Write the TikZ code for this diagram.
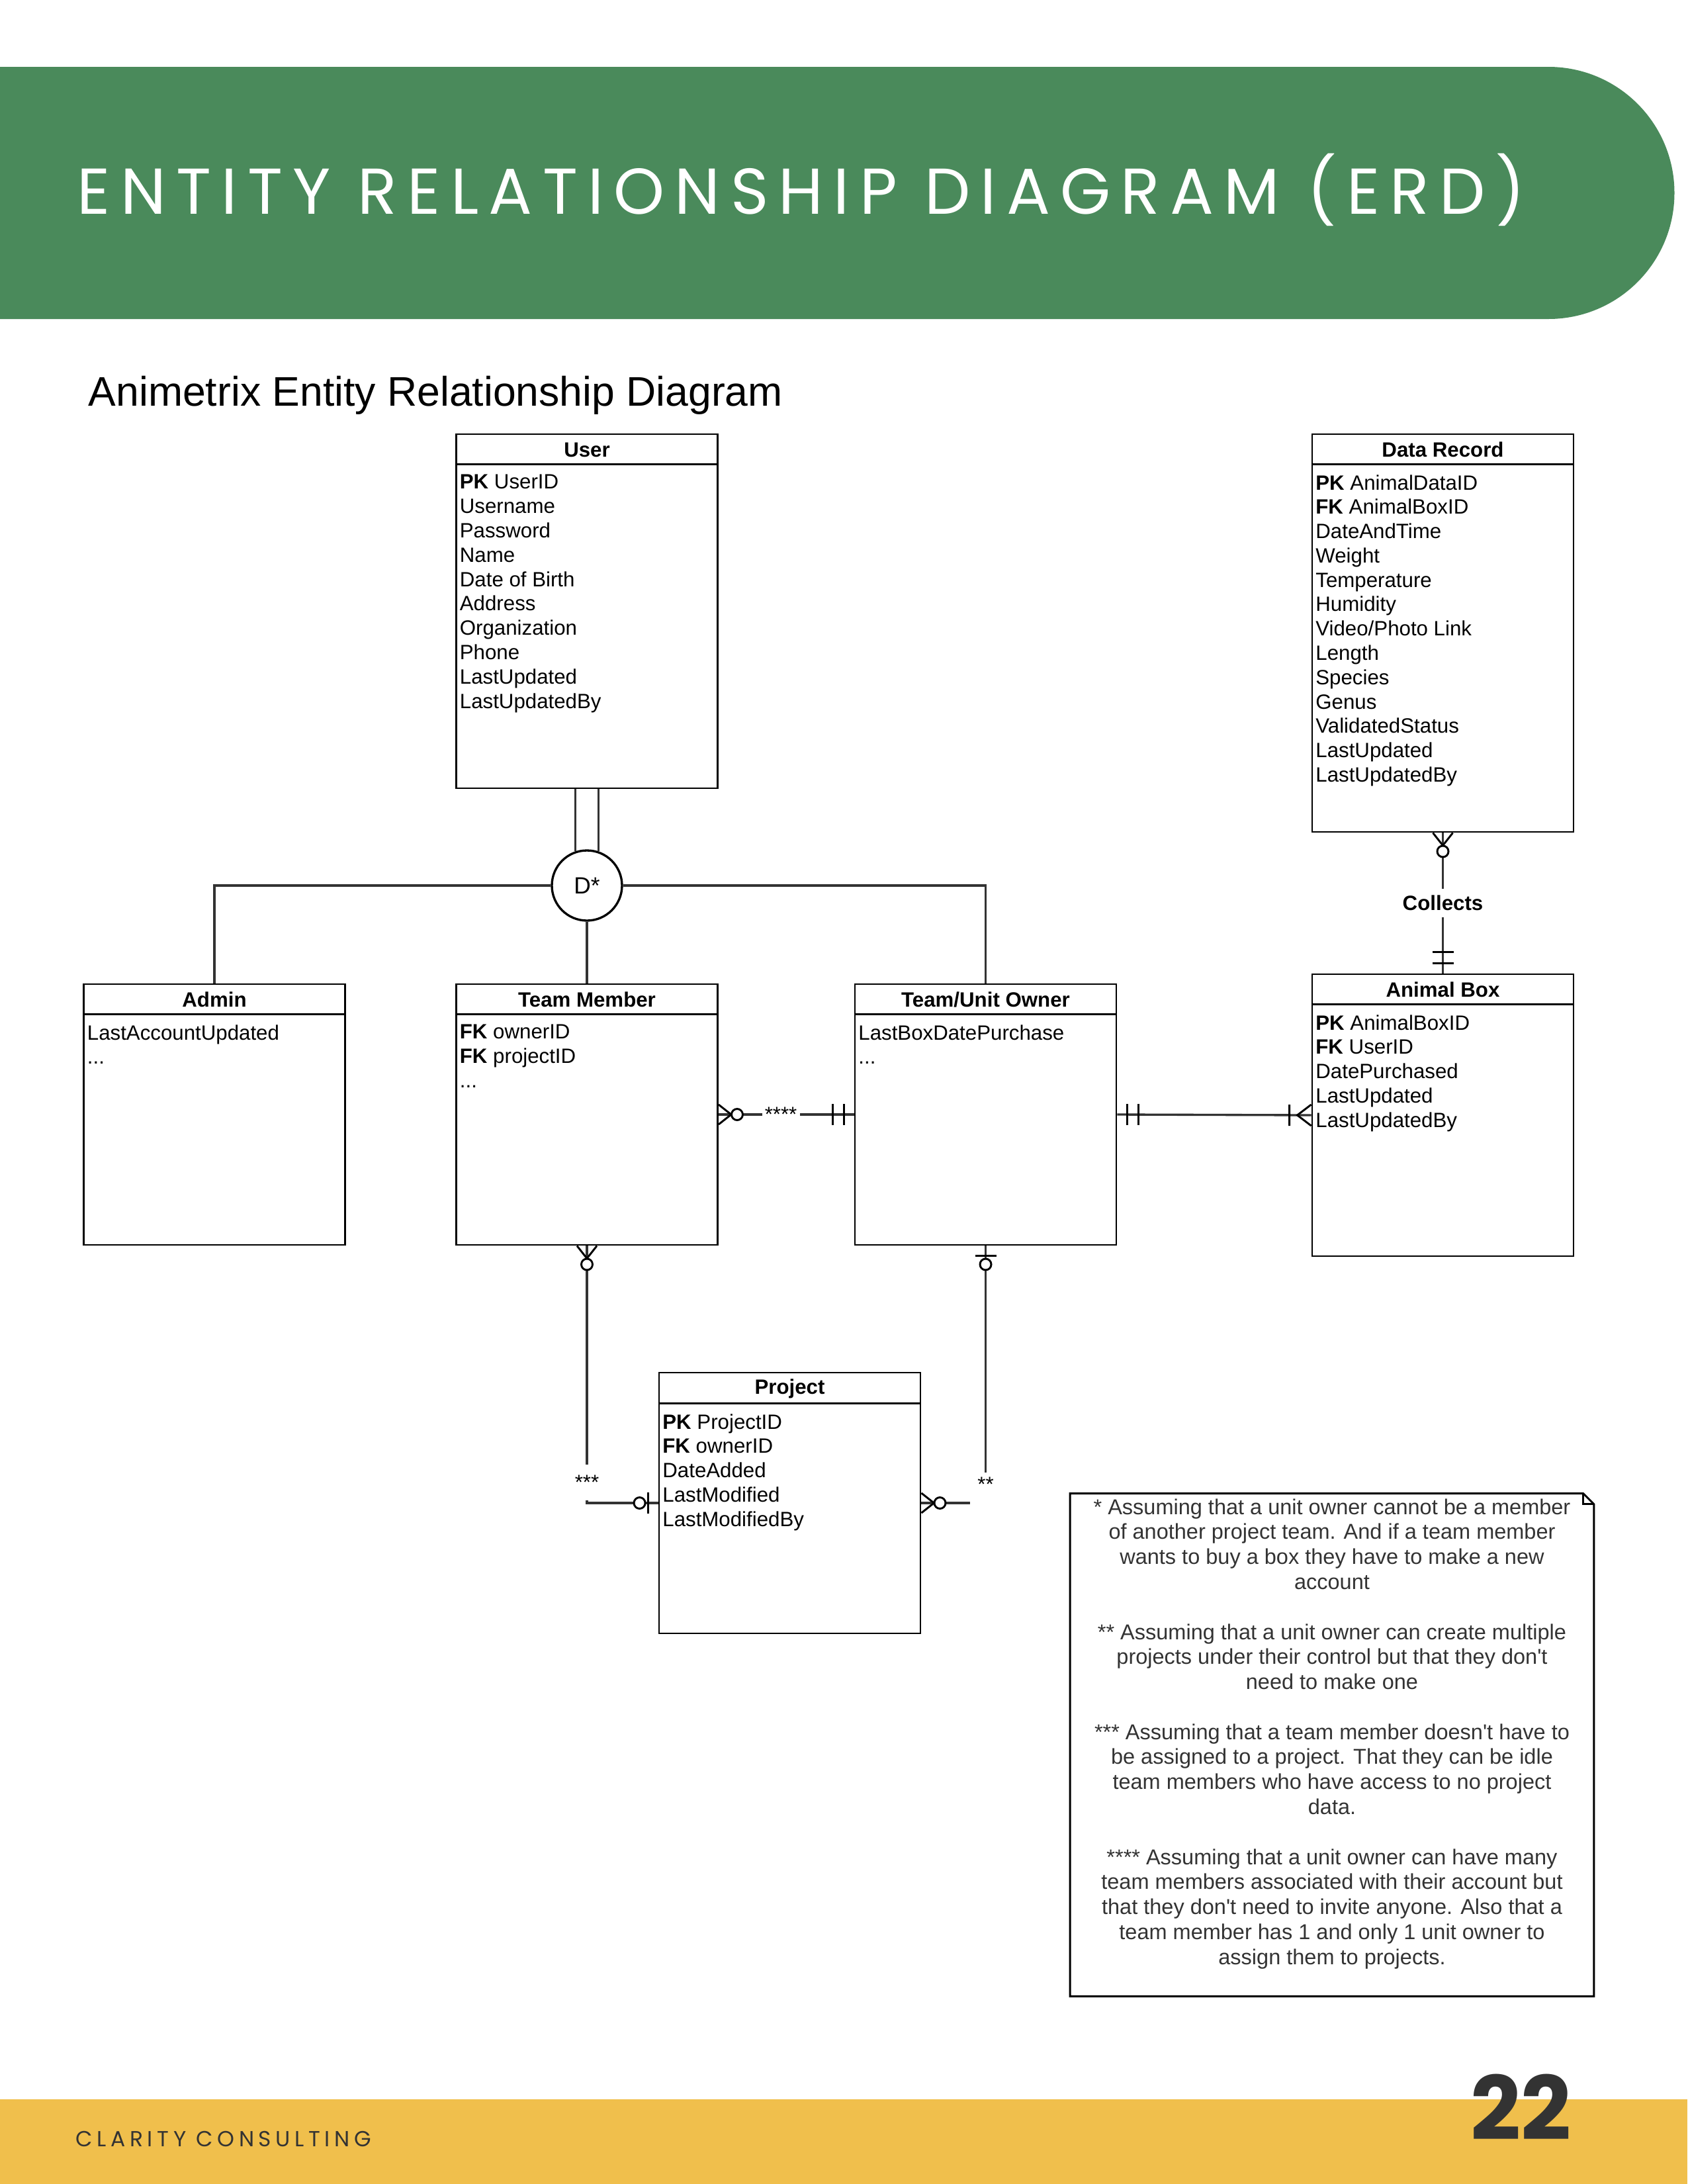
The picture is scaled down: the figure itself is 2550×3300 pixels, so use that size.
\documentclass[tikz,border=0pt]{standalone}
\usepackage{fontspec}
\setmainfont{Liberation Sans}
\newfontfamily\headfont[LetterSpace=15.6]{Poppins}
\newfontfamily\footfont[LetterSpace=20]{Poppins}
\newfontfamily\pagefont{Poppins}
\usetikzlibrary{positioning,calc}
\definecolor{hdrgreen}{HTML}{4A8A5B}
\definecolor{ftryellow}{HTML}{F0BF4C}
\definecolor{inkgray}{HTML}{333333}
\newcommand{\dpx}[1]{#1*0.24pt}

\begin{document}
\begin{tikzpicture}[x=0.24pt, y=-0.24pt,
	entity/.style={draw, line width=0.7pt, minimum width=\dpx{395}, inner sep=0pt},
	ehead/.style={inner sep=0pt, font=\fontsize{7.5}{9}\selectfont\bfseries},
	erows/.style={anchor=north west, align=left, inner sep=0pt, font=\fontsize{7.5}{8.83}\selectfont},
	rel/.style={line width=0.8pt, draw=inkgray},
	card/.style={fill=white, inner sep=1pt, font=\fontsize{7.5}{9}\selectfont},
	many0/.pic={\draw[line width=0.7pt] (0,-15) -- (19,0) -- (0,15);
		\draw[line width=0.7pt, fill=white] (28,0) circle[radius=\dpx{8.5}];},
	many1/.pic={\draw[line width=0.7pt] (0,-16) -- (21,0) -- (0,16) (33,-16) -- (33,16);},
	one0/.pic={\draw[line width=0.7pt] (15,-16) -- (15,16);
		\draw[line width=0.7pt, fill=white] (28,0) circle[radius=\dpx{8.5}];},
	one1/.pic={\draw[line width=0.7pt] (15,-16) -- (15,16) (32,-16) -- (32,16);}]
	\useasboundingbox (0,0) rectangle (2550,3300);

	\fill[hdrgreen] (0,101) -- (2340,101) arc[start angle=90, end angle=-90, radius=\dpx{190.5}] -- (0,482) -- cycle;
	\node[anchor=base west, inner sep=0pt, text=white, font=\headfont\fontsize{23.5}{28}\selectfont] (title) at (116,323) {ENTITY RELATIONSHIP DIAGRAM (ERD)};
	\node[anchor=base west, inner sep=0pt, font=\fontsize{15}{18}\selectfont] (subtitle) at (133,613) {Animetrix Entity Relationship Diagram};

	\node[entity, minimum height=\dpx{535}] (user) at (887,923.5) {};
	\draw[line width=0.7pt] ($(user.north west)+(0,47)$) -- ($(user.north east)+(0,47)$);
	\node[ehead] (user-title) at ($(user.north)+(0,25)$) {User};
	\node[erows] (user-rows) at ($(user.north west)+(6,62)$) {\textbf{PK} UserID\\Username\\Password\\Name\\Date of Birth\\Address\\Organization\\Phone\\LastUpdated\\LastUpdatedBy};

	\node[entity, minimum height=\dpx{601}] (datarec) at (2180.5,956.5) {};
	\draw[line width=0.7pt] ($(datarec.north west)+(0,47)$) -- ($(datarec.north east)+(0,47)$);
	\node[ehead] (datarec-title) at ($(datarec.north)+(0,25)$) {Data Record};
	\node[erows] (datarec-rows) at ($(datarec.north west)+(6,62)$) {\textbf{PK} AnimalDataID\\\textbf{FK} AnimalBoxID\\DateAndTime\\Weight\\Temperature\\Humidity\\Video/Photo Link\\Length\\Species\\Genus\\ValidatedStatus\\LastUpdated\\LastUpdatedBy};

	\node[entity, minimum height=\dpx{394}] (admin) at (324,1684) {};
	\draw[line width=0.7pt] ($(admin.north west)+(0,47)$) -- ($(admin.north east)+(0,47)$);
	\node[ehead] (admin-title) at ($(admin.north)+(0,25)$) {Admin};
	\node[erows] (admin-rows) at ($(admin.north west)+(6,62)$) {LastAccountUpdated\\...};

	\node[entity, minimum height=\dpx{394}] (member) at (887,1684) {};
	\draw[line width=0.7pt] ($(member.north west)+(0,47)$) -- ($(member.north east)+(0,47)$);
	\node[ehead] (member-title) at ($(member.north)+(0,25)$) {Team Member};
	\node[erows] (member-rows) at ($(member.north west)+(6,62)$) {\textbf{FK} ownerID\\\textbf{FK} projectID\\...};

	\node[entity, minimum height=\dpx{394}] (owner) at (1489.5,1684) {};
	\draw[line width=0.7pt] ($(owner.north west)+(0,47)$) -- ($(owner.north east)+(0,47)$);
	\node[ehead] (owner-title) at ($(owner.north)+(0,25)$) {Team/Unit Owner};
	\node[erows] (owner-rows) at ($(owner.north west)+(6,62)$) {LastBoxDatePurchase\\...};

	\node[entity, minimum height=\dpx{426}] (animalbox) at (2180.5,1685) {};
	\draw[line width=0.7pt] ($(animalbox.north west)+(0,47)$) -- ($(animalbox.north east)+(0,47)$);
	\node[ehead] (animalbox-title) at ($(animalbox.north)+(0,25)$) {Animal Box};
	\node[erows] (animalbox-rows) at ($(animalbox.north west)+(6,62)$) {\textbf{PK} AnimalBoxID\\\textbf{FK} UserID\\DatePurchased\\LastUpdated\\LastUpdatedBy};

	\node[entity, minimum height=\dpx{394}] (project) at (1193.5,2271) {};
	\draw[line width=0.7pt] ($(project.north west)+(0,48)$) -- ($(project.north east)+(0,48)$);
	\node[ehead] (project-title) at ($(project.north)+(0,26)$) {Project};
	\node[erows] (project-rows) at ($(project.north west)+(6,63)$) {\textbf{PK} ProjectID\\\textbf{FK} ownerID\\DateAdded\\LastModified\\LastModifiedBy};

	\node[draw, circle, line width=0.8pt, minimum size=\dpx{106}, inner sep=0pt, fill=white, font=\fontsize{8.5}{10}\selectfont] (dsub) at (887,1338) {D*};
	\draw[rel] (dsub.109) -- (dsub.109 |- user.south);
	\draw[rel] (dsub.71) -- (dsub.71 |- user.south);
	\draw[rel] (dsub.west) -| (admin.north);
	\draw[rel] (dsub.east) -| (owner.north);
	\draw[rel] (dsub.south) -- (member.north);

	\draw[rel] (member.east) -- node[card, pos=0.46] (lbl4) {****} (owner.west);
	\draw[rel] (owner.east) -- (animalbox.west);
	\draw[rel] (datarec.south) -- node[card, inner ysep=2.5pt, font=\fontsize{7.5}{9}\selectfont\bfseries] (collects) {Collects} (animalbox.north);
	\draw[rel] (member.south) |- node[card, pos=0.46, minimum height=\dpx{54}] (lbl3) {***} (project.west);
	\draw[rel] (owner.south) |- node[card, pos=0.473, minimum height=\dpx{50}, minimum width=\dpx{48}, text depth=\dpx{14}] (lbl2) {**} (project.east);

	\pic at (member.east) {many0};
	\pic[rotate=180] at (owner.west) {one1};
	\pic at (owner.east) {one1};
	\pic[rotate=180] at (animalbox.west) {many1};
	\pic[rotate=-90] at (datarec.south) {many0};
	\pic[rotate=90] at (animalbox.north) {one1};
	\pic[rotate=-90] at (member.south) {many0};
	\pic[rotate=180] at (project.west) {one0};
	\pic[rotate=-90] at (owner.south) {one0};
	\pic at (project.east) {many0};

	\node[minimum width=\dpx{790}, minimum height=\dpx{758}, inner sep=0pt] (note) at (2013,2636.5) {};
	\draw[line width=0.7pt] (note.south west) -- (note.north west) -- ($(note.north east)+(-16,0)$) -- ($(note.north east)+(0,16)$) -- (note.south east) -- cycle;
	\draw[line width=0.7pt] ($(note.north east)+(-16,0)$) |- ($(note.north east)+(0,16)$);
	\node[anchor=north, align=center, inner sep=0pt, text=inkgray, font=\fontsize{7.8}{9.07}\selectfont] (note-text) at ($(note.north)+(0,7)$) {%
		* Assuming that a unit owner cannot be a member\\
		of another project team. And if a team member\\
		wants to buy a box they have to make a new\\
		account\\[9.07pt]
		** Assuming that a unit owner can create multiple\\
		projects under their control but that they don\textquotesingle t\\
		need to make one\\[9.07pt]
		*** Assuming that a team member doesn\textquotesingle t have to\\
		be assigned to a project. That they can be idle\\
		team members who have access to no project\\
		data.\\[9.07pt]
		**** Assuming that a unit owner can have many\\
		team members associated with their account but\\
		that they don\textquotesingle t need to invite anyone. Also that a\\
		team member has 1 and only 1 unit owner to\\
		assign them to projects.};

	\fill[ftryellow] (0,3172) rectangle (2550,3300);
	\node[anchor=base west, inner sep=0pt, text=inkgray, font=\footfont\fontsize{7.9}{9}\selectfont] (firm) at (114,3243) {CLARITY CONSULTING};
	\node[anchor=base west, inner sep=0pt, text=inkgray, font=\pagefont\bfseries\fontsize{32}{36}\selectfont] (pageno) at (2222,3233) {22};
\end{tikzpicture}
\end{document}
